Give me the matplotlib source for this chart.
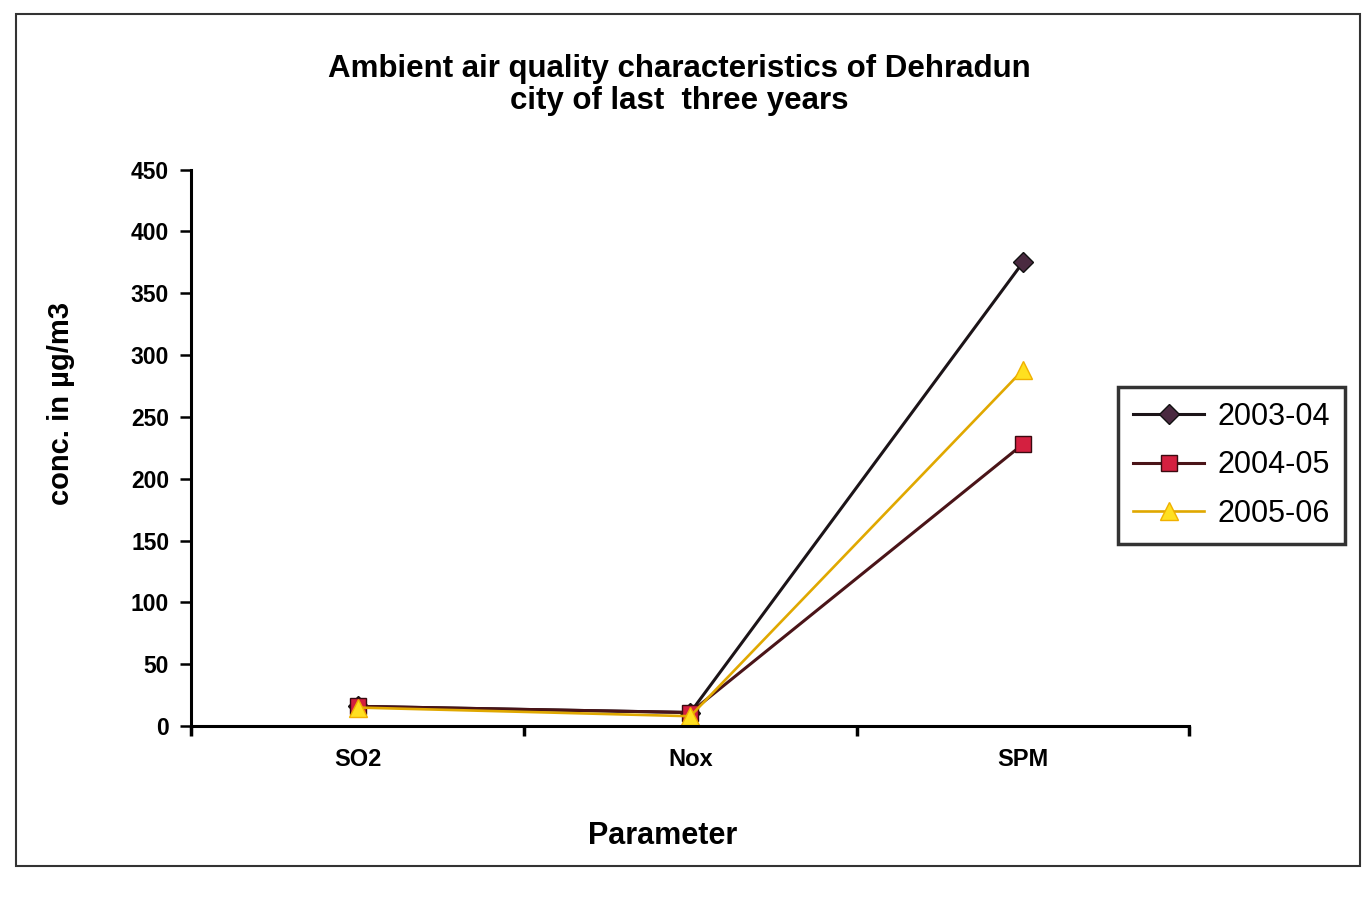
import numpy as np
import matplotlib
matplotlib.use("Agg")
import matplotlib.pyplot as plt
from matplotlib.patches import Rectangle

plt.rcParams['font.family'] = ['Liberation Sans', 'DejaVu Sans']

# data
parameters = ["SO2", "Nox", "SPM"]
years = ["2003-04", "2004-05", "2005-06"]
conc_2003_04 = [16, 11, 375]
conc_2004_05 = [16, 11, 228]
conc_2005_06 = [15, 8, 288]
y_ticks = [0, 50, 100, 150, 200, 250, 300, 350, 400, 450]

fig = plt.figure(figsize=(13.67, 9.02), dpi=100)
fig.patch.set_facecolor("white")

# outer frame of the chart area
fig.add_artist(Rectangle((0.012, 0.04), 0.983, 0.945, transform=fig.transFigure,
                         fill=False, edgecolor="#333333", linewidth=1.5))

ax = fig.add_axes([0.140, 0.195, 0.730, 0.617])
x = np.arange(len(parameters))

ax.plot(x, conc_2003_04, color="#1c1418", lw=2.2, marker="D", ms=10,
        markerfacecolor="#4a2a40", markeredgecolor="#111111", label=years[0])
ax.plot(x, conc_2004_05, color="#4a1418", lw=2.2, marker="s", ms=12,
        markerfacecolor="#d42040", markeredgecolor="#3a0a10", label=years[1])
ax.plot(x, conc_2005_06, color="#e0a800", lw=1.9, marker="^", ms=13,
        markerfacecolor="#ffe020", markeredgecolor="#f0b000", label=years[2])

ax.set_xlim(-0.5, len(parameters) - 0.5)
ax.set_ylim(0, 450)
ax.set_yticks(y_ticks)
ax.set_yticklabels([str(v) for v in y_ticks], fontsize=16.5, fontweight="bold")
ax.set_xticks(x)
ax.set_xticklabels(parameters, fontsize=17, fontweight="bold")
ax.tick_params(axis="x", which="major", length=0, pad=16)
ax.set_xticks(np.arange(-0.5, len(parameters)), minor=True)
ax.tick_params(axis="x", which="minor", length=7, width=2.5, direction="out")
ax.tick_params(axis="y", length=8, width=1.8, pad=8)

for side in ["top", "right"]:
    ax.spines[side].set_visible(False)
for side in ["left", "bottom"]:
    ax.spines[side].set_linewidth(2.2)

ax.set_ylabel("conc. in µg/m3", fontsize=21, fontweight="bold", labelpad=40, y=0.58)
ax.set_xlabel("Parameter", fontsize=22, fontweight="bold", labelpad=36, x=0.472)

fig.text(0.497, 0.906, "Ambient air quality characteristics of Dehradun\ncity of last  three years",
         ha="center", va="center", fontsize=22.5, fontweight="bold", linespacing=1.1)

leg = fig.legend(loc="center left", bbox_to_anchor=(0.818, 0.484), fontsize=22,
                 frameon=True, fancybox=False, handlelength=2.3, handletextpad=0.45,
                 borderpad=0.5, labelspacing=0.6, borderaxespad=0)
leg.get_frame().set_edgecolor("black")
leg.get_frame().set_linewidth(2.5)

fig.savefig("out.png", dpi=100)
